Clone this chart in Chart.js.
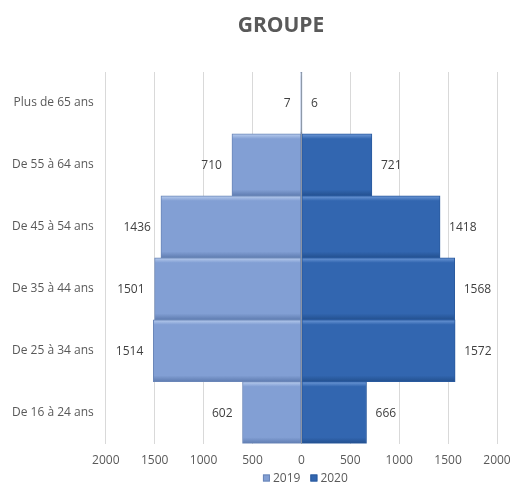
<!DOCTYPE html>
<html>
<head>
<meta charset="utf-8">
<script src="https://cdn.jsdelivr.net/npm/chart.js@4"></script>
<style>
  html, body { margin: 0; padding: 0; background: #fff; }
  #wrap { width: 513px; height: 485px; position: relative; }
</style>
</head>
<body>
<div id="wrap"><canvas id="myChart"></canvas></div>
<script>
const categories = ["Plus de 65 ans", "De 55 à 64 ans", "De 45 à 54 ans", "De 35 à 44 ans", "De 25 à 34 ans", "De 16 à 24 ans"];
const values2019 = [7, 710, 1436, 1501, 1514, 602];
const values2020 = [6, 721, 1418, 1568, 1572, 666];
const seriesNames = ["2019", "2020"];
const chartTitle = "GROUPE";

const fontFamily = "'Open Sans', 'Noto Sans', sans-serif";
const textColor = "#595959";

// 2019 goes on the left, so it is drawn as negative values
const left2019 = values2019.map(v => -v);

const barLabels = {
    id: "barLabels",
    afterDatasetsDraw(chart) {
        const ctx = chart.ctx;
        ctx.save();
        ctx.font = "12px " + fontFamily;
        ctx.fillStyle = "#404040";
        ctx.textBaseline = "middle";
        chart.data.datasets.forEach((ds, i) => {
            const meta = chart.getDatasetMeta(i);
            meta.data.forEach((bar, j) => {
                const v = Math.abs(ds.data[j]);
                if (i === 0) {
                    ctx.textAlign = "right";
                    ctx.fillText(v, bar.x - 10, bar.y + 1);
                } else {
                    ctx.textAlign = "left";
                    ctx.fillText(v, bar.x + 9, bar.y + 1);
                }
            });
        });
        ctx.restore();
    }
};

// title and legend drawn by hand so they sit where the original puts them
const titleAndLegend = {
    id: "titleAndLegend",
    afterDraw(chart) {
        const ctx = chart.ctx;
        const area = chart.chartArea;
        ctx.save();
        ctx.fillStyle = textColor;
        ctx.font = "bold 21px " + fontFamily;
        ctx.textAlign = "center";
        ctx.textBaseline = "middle";
        ctx.fillText(chartTitle, 281, 26);

        ctx.font = "12px " + fontFamily;
        ctx.textAlign = "left";
        const box = 7, gap = 3, spacing = 10;
        const widths = seriesNames.map(n => box + gap + ctx.measureText(n).width);
        const total = widths.reduce((a, b) => a + b, 0) + spacing;
        let x = (area.left + area.right) / 2 + 4 - total / 2;
        const y = 478;
        chart.data.datasets.forEach((ds, i) => {
            ctx.fillStyle = ds.legendColor;
            ctx.fillRect(x, y - box / 2, box, box);
            ctx.strokeStyle = ds.borderColor;
            ctx.lineWidth = 1;
            ctx.strokeRect(x + 0.5, y - box / 2 + 0.5, box - 1, box - 1);
            ctx.fillStyle = textColor;
            ctx.fillText(seriesNames[i], x + box + gap, y + 1);
            x += widths[i] + spacing;
        });
        ctx.restore();
    }
};

function makeGradient(light, mid, dark) {
    return function (c) {
        const chart = c.chart;
        const area = chart.chartArea;
        const yScale = chart.scales.y;
        if (!area || !yScale || c.dataIndex === undefined) return mid;
        const h = (area.bottom - area.top) / categories.length;
        const yc = yScale.getPixelForValue(c.dataIndex);
        if (!Number.isFinite(yc) || !Number.isFinite(h)) return mid;
        const g = chart.ctx.createLinearGradient(0, yc - h / 2, 0, yc + h / 2);
        g.addColorStop(0, light);
        g.addColorStop(0.08, mid);
        g.addColorStop(0.9, mid);
        g.addColorStop(1, dark);
        return g;
    };
}

const ctx = document.getElementById("myChart").getContext("2d");

window.myChart = new Chart(ctx, {
    type: "bar",
    data: {
        labels: categories,
        datasets: [{
            label: seriesNames[0],
            data: left2019,
            backgroundColor: makeGradient("#b9cdee", "#829fd4", "#5f7cb0"),
            legendColor: "#829fd4",
            borderColor: "#6a86b8",
            borderWidth: 1,
            borderSkipped: false,
            barPercentage: 1,
            categoryPercentage: 1
        }, {
            label: seriesNames[1],
            data: values2020,
            backgroundColor: makeGradient("#6f9ad8", "#3266b0", "#23508f"),
            legendColor: "#3266b0",
            borderColor: "#2a5a9e",
            borderWidth: 1,
            borderSkipped: false,
            barPercentage: 1,
            categoryPercentage: 1
        }]
    },
    options: {
        indexAxis: "y",
        responsive: true,
        maintainAspectRatio: false,
        animation: false,
        layout: { padding: { left: 0, right: 16, top: 72, bottom: 7 } },
        plugins: {
            title: { display: false },
            legend: { display: false },
            tooltip: { enabled: false }
        },
        scales: {
            x: {
                stacked: true,
                min: -2000,
                max: 2000,
                afterFit: s => { s.paddingRight = 0; s.paddingLeft = 0; },
                ticks: {
                    stepSize: 500,
                    color: textColor,
                    font: { family: fontFamily, size: 12 },
                    callback: v => Math.abs(v),
                    maxRotation: 0,
                    padding: 10
                },
                grid: {
                    color: c => c.tick && c.tick.value === 0 ? "#a6a6a6" : "#d9d9d9",
                    drawTicks: false
                },
                border: { display: false }
            },
            y: {
                stacked: true,
                ticks: {
                    color: textColor,
                    font: { family: fontFamily, size: 12 },
                    padding: 12
                },
                grid: { display: false, drawTicks: false, tickLength: 0 },
                border: { display: false }
            }
        }
    },
    plugins: [barLabels, titleAndLegend]
});
</script>
</body>
</html>
